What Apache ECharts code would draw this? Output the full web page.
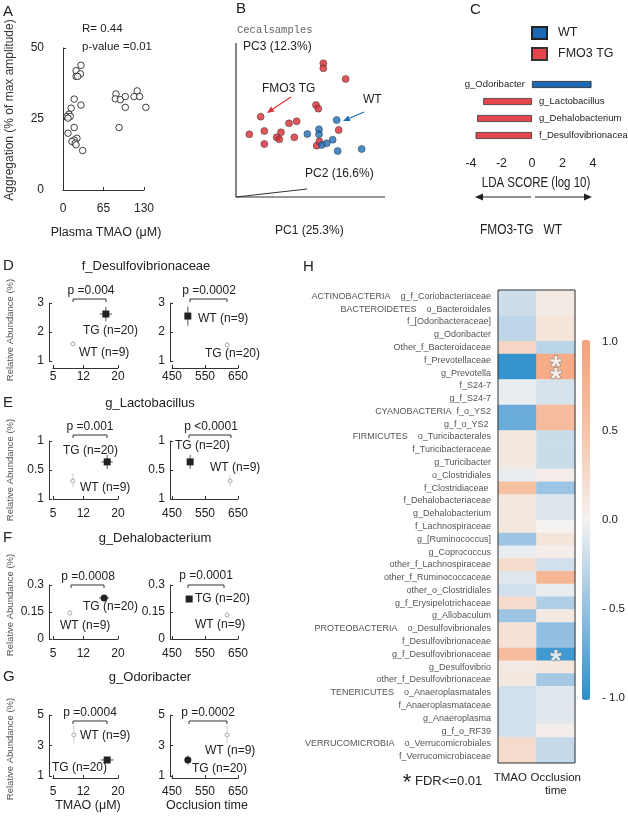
<!DOCTYPE html>
<html>
<head>
<meta charset="utf-8">
<script src="https://cdn.jsdelivr.net/npm/echarts@6/dist/echarts.min.js"></script>
<style>
html, body { margin: 0; padding: 0; background: #fff; }
#chart { width: 628px; height: 816px; }
</style>
</head>
<body>
<div id="chart"></div>
<script>
// ---- A: plasma TMAO vs platelet aggregation
const aTmao = [28.8, 21, 28, 21, 23.5, 18, 28.8, 13, 9.6, 6.4, 11.7, 8, 18, 8, 22.4, 18, 14.4, 19.7, 21, 31.5,
	85, 84, 92, 100, 100, 90, 114, 119, 123, 133]
const aAggregation = [43.9, 42, 40.9, 40, 40, 32, 29.9, 28.8, 26.7, 25.9, 25.9, 25.3, 22, 20, 18.2, 17.6, 17.1, 16.5, 15.9, 13.9,
	33.8, 32.1, 31.8, 32.9, 29.1, 22, 32.9, 34.9, 32.9, 29.1]

// ---- B: PCoA of cecal samples (PC2, PC3)
const bTgPc2 = [0.70, 0.70, 1.37, 0.48, 0.55, -1.18, -0.33, -0.10, 1.16, -1.52, -1.07, -0.57, -0.70, -0.62, -0.17, -1.07, 0.50, 0.58]
const bTgPc3 = [2.60, 2.45, 2.13, 1.35, 1.24, 1.00, 0.80, 0.86, 0.60, 0.47, 0.57, 0.53, 0.38, 0.32, 0.38, 0.18, 0.13, 0.26]
const bWtPc2 = [1.10, 0.57, 0.22, 0.57, 0.98, 0.80, 0.65, 1.13, 1.85]
const bWtPc3 = [0.90, 0.62, 0.48, 0.47, 0.31, 0.20, 0.15, -0.03, 0.03]

// ---- C: LEfSe LDA scores
const cTaxa = ['g_Odoribacter', 'g_Lactobacillus', 'g_Dehalobacterium', 'f_Desulfovibrionaceae']
const cLdaScore = [3.9, -3.2, -3.6, -3.7]
const cGroup = ['WT', 'FMO3 TG', 'FMO3 TG', 'FMO3 TG']

// ---- D-G: mean, error  [x, y, xErr, yErr]
const dTmaoTG = [17.2, 2.62, 1.4, 0.25]
const dTmaoWT = [9.6, 1.59, 0.4, 0.08]
const dOccWT = [498, 2.55, 5, 0.33]
const dOccTG = [617, 1.55, 5, 0.1]
const eTmaoTG = [17.5, 0.64, 1.3, 0.12]
const eTmaoWT = [9.6, 0.31, 0.4, 0.12]
const eOccTG = [505, 0.64, 5, 0.12]
const eOccWT = [626, 0.31, 5, 0.1]
const fTmaoTG = [16.8, 0.228, 1.2, 0.01]
const fTmaoWT = [8.9, 0.144, 0.3, 0.015]
const fOccTG = [502, 0.222, 5, 0.012]
const fOccWT = [617, 0.133, 5, 0.015]
const gTmaoWT = [9.8, 3.69, 0.4, 0.6]
const gTmaoTG = [17.5, 2.05, 1.5, 0.2]
const gOccWT = [617, 3.69, 5, 0.6]
const gOccTG = [498, 2.05, 5, 0.3]

const tmaoTicks = [5, 12, 20]
const occTicks = [450, 550, 650]
const dTicks = [1, 2, 3]
const eTicks = [0, 0.5, 1]
const eTickText = ['1', '0.5', '1']
const fTicks = [0, 0.15, 0.3]
const gTicks = [1, 3, 5]

// ---- H: correlation heatmap
const hTaxa = [
	'ACTINOBACTERIA    g_f_Coriobacteriaceae',
	'BACTEROIDETES    o_Bacteroidales',
	'f_[Odoribacteraceae]',
	'g_Odoribacter',
	'Other_f_Bacteroidaceae',
	'f_Prevotellaceae',
	'g_Prevotella',
	'f_S24-7',
	'g_f_S24-7',
	'CYANOBACTERIA  f_o_YS2',
	'g_f_o_YS2 ',
	'FIRMICUTES    o_Turicibacterales',
	'f_Turicibacteraceae',
	'g_Turicibacter',
	'o_Clostridiales',
	'f_Clostridiaceae ',
	'f_Dehalobacteriaceae',
	'g_Dehalobacterium',
	'f_Lachnospiraceae',
	'g_[Ruminococcus]',
	'g_Coprococcus',
	'other_f_Lachnospiraceae',
	'other_f_Ruminococcaceae',
	'other_o_Clostridiales',
	'g_f_Erysipelotrichaceae',
	'g_Allobaculum',
	'PROTEOBACTERIA    o_Desulfovibrionales',
	'f_Desulfovibrionaceae',
	'g_f_Desulfovibrionaceae',
	'g_Desulfovibrio',
	'other_f_Desulfovibrionaceae',
	'TENERICUTES    o_Anaeroplasmatales',
	'f_Anaeroplasmataceae',
	'g_Anaeroplasma',
	'g_f_o_RF39',
	'VERRUCOMICROBIA    o_Verrucomicrobiales',
	'f_Verrucomicrobiaceae'
]
const hTmao = [-0.2, -0.2, -0.28, -0.28, 0.3, -0.95, -0.95, -0.05, -0.05, -0.7, -0.7, 0.1, 0.1, 0.1, -0.05, 0.55,
	0.12, 0.12, 0.12, -0.45, -0.05, 0.25, -0.1, -0.18, 0.25, -0.45, 0.18, 0.18, 0.6, 0.08, 0.12,
	-0.18, -0.18, -0.18, -0.18, 0.25, 0.25]
const hOcclusion = [0.08, 0.08, 0.15, 0.15, -0.3, 0.85, 0.85, -0.15, -0.15, 0.6, 0.6, -0.22, -0.22, -0.22, 0.05, -0.45,
	-0.12, -0.12, 0.0, 0.15, 0.05, -0.18, 0.7, -0.05, -0.35, 0.08, -0.5, -0.5, -0.9, 0.12, -0.42,
	-0.1, -0.1, -0.1, 0.05, -0.25, -0.25]
const hStarRows = [5, 6, 28] // FDR <= 0.01, occlusion time column
const hColumns = ['TMAO', 'Occlusion\ntime']
const cbTicks = [-1, -0.5, 0, 0.5, 1]
const cbTickText = ['- 1.0', '- 0.5', '0.0', '0.5', '1.0']

const FONT = '"Liberation Sans", Arial, sans-serif'

const txt = (x, y, s, size, o = {}) => ({
	type: 'text', x, y, rotation: o.rot || 0, scaleX: o.sx || 1, z: 100,
	style: {
		text: s, fontSize: size, fontFamily: o.family || FONT, fill: o.color || '#222',
		align: o.align || 'left', verticalAlign: 'middle'
	}
})

const seg = (x1, y1, x2, y2, color = '#333', w = 1) => ({
	type: 'line', z: 100, shape: { x1, y1, x2, y2 }, style: { stroke: color, lineWidth: w }
})

const arrow = (x1, y1, x2, y2, color, hl = 7, hw = 3) => {
	const a = Math.atan2(y2 - y1, x2 - x1)
	const bx = x2 - hl * Math.cos(a), by = y2 - hl * Math.sin(a)
	const px = -Math.sin(a) * hw, py = Math.cos(a) * hw
	return [
		seg(x1, y1, bx, by, color, 1.2),
		{ type: 'polygon', z: 100, shape: { points: [[x2, y2], [bx + px, by + py], [bx - px, by - py]] }, style: { fill: color } }
	]
}

const bracket = (x1, x2, y) => ({
	type: 'polyline', z: 100,
	shape: { points: [[x1, y + 3], [x1, y], [x2, y], [x2, y + 3]] },
	style: { stroke: '#333', lineWidth: 1, fill: null }
})

// small plots layout
const rows = {
	D: { top: 303, h: 58, xOff: 7, xMargin: 3, ticks: dTicks, min: 1, max: 3 },
	E: { top: 441, h: 58, xOff: 4, xMargin: 5, ticks: eTicks, min: 0, max: 1, text: eTickText },
	F: { top: 585, h: 54, xOff: 2, xMargin: 7, ticks: fTicks, min: 0, max: 0.3 },
	G: { top: 715, h: 61, xOff: 2, xMargin: 8, ticks: gTicks, min: 1, max: 5 }
}
const sides = {
	L: { left: 53, width: 65, min: 5, max: 20, ticks: tmaoTicks, yOff: 4 },
	R: { left: 172, width: 66, min: 450, max: 650, ticks: occTicks, yOff: 2 }
}
const smallPlots = [
	{ row: 'D', side: 'L', TG: dTmaoTG, WT: dTmaoWT, filled: 'TG', shape: 'rect' },
	{ row: 'D', side: 'R', TG: dOccTG, WT: dOccWT, filled: 'WT', shape: 'rect' },
	{ row: 'E', side: 'L', TG: eTmaoTG, WT: eTmaoWT, filled: 'TG', shape: 'rect' },
	{ row: 'E', side: 'R', TG: eOccTG, WT: eOccWT, filled: 'TG', shape: 'rect' },
	{ row: 'F', side: 'L', TG: fTmaoTG, WT: fTmaoWT, filled: 'TG', shape: 'circle' },
	{ row: 'F', side: 'R', TG: fOccTG, WT: fOccWT, filled: 'TG', shape: 'rect' },
	{ row: 'G', side: 'L', TG: gTmaoTG, WT: gTmaoWT, filled: 'TG', shape: 'rect' },
	{ row: 'G', side: 'R', TG: gOccTG, WT: gOccWT, filled: 'TG', shape: 'circle' }
]

const errorMarker = (filled, shape) => (params, api) => {
	const x = api.value(0), y = api.value(1), ex = api.value(2), ey = api.value(3)
	const c = api.coord([x, y])
	const xl = api.coord([x - ex, y])[0], xr = api.coord([x + ex, y])[0]
	const yt = api.coord([x, y + ey])[1], yb = api.coord([x, y - ey])[1]
	const bar = filled ? { stroke: '#555', lineWidth: 1 } : { stroke: '#aaa', lineWidth: 1, lineDash: [1, 1] }
	const kids = [
		{ type: 'line', shape: { x1: xl, y1: c[1], x2: xr, y2: c[1] }, style: bar },
		{ type: 'line', shape: { x1: c[0], y1: yt, x2: c[0], y2: yb }, style: bar }
	]
	if (filled) {
		kids.push(shape === 'circle'
			? { type: 'circle', shape: { cx: c[0], cy: c[1], r: 3.5 }, style: { fill: '#222' } }
			: { type: 'rect', shape: { x: c[0] - 3.5, y: c[1] - 3.5, width: 7, height: 7 }, style: { fill: '#222' } })
	} else {
		kids.push({ type: 'circle', shape: { cx: c[0], cy: c[1], r: 2 }, style: { fill: '#fff', stroke: '#aaa', lineWidth: 1 } })
	}
	return { type: 'group', children: kids }
}

const grids = [
	{ left: 63, top: 48, width: 81, height: 142 },          // A
	{ left: 233.33, top: 50, width: 133.33, height: 116.67 }, // B
	{ left: 471, top: 76, width: 122, height: 68 }           // C
]
const xAxes = [
	{
		gridIndex: 0, type: 'value', min: 0, max: 130, interval: 65, offset: 4,
		axisLine: { lineStyle: { color: '#333' } }, axisTick: { inside: true, length: 3 },
		axisLabel: { fontSize: 12, color: '#222', margin: 9 }, splitLine: { show: false }
	},
	{ gridIndex: 1, type: 'value', min: -2, max: 2, show: false },
	{
		gridIndex: 2, type: 'value', min: -4, max: 4, interval: 2, offset: 8,
		axisLine: { lineStyle: { color: '#222' } }, axisTick: { inside: true, length: 4, lineStyle: { color: '#222' } },
		axisLabel: { fontSize: 12.5, color: '#222', margin: 5 }, splitLine: { show: false }
	}
]
const yAxes = [
	{
		gridIndex: 0, type: 'value', min: 0, max: 50, interval: 25, offset: 14,
		axisLine: { show: true, lineStyle: { color: '#333' } }, axisTick: { show: true, inside: true, length: 3 },
		axisLabel: { fontSize: 12, color: '#222', margin: 5 }, splitLine: { show: false }
	},
	{ gridIndex: 1, type: 'value', min: -0.5, max: 3, show: false },
	{ gridIndex: 2, type: 'category', data: cTaxa, inverse: true, show: false }
]

const series = [
	{
		type: 'scatter', xAxisIndex: 0, yAxisIndex: 0, clip: false, symbol: 'circle', symbolSize: 6.5,
		itemStyle: { color: '#fff', borderColor: '#111', borderWidth: 1 },
		data: aTmao.map((x, i) => [x, aAggregation[i]])
	},
	{
		type: 'scatter', xAxisIndex: 1, yAxisIndex: 1, symbolSize: 7,
		itemStyle: { color: '#d92b35', borderColor: '#333', borderWidth: 0.6 },
		data: bTgPc2.map((x, i) => [x, bTgPc3[i]])
	},
	{
		type: 'scatter', xAxisIndex: 1, yAxisIndex: 1, symbolSize: 7,
		itemStyle: { color: '#1d6db5', borderColor: '#333', borderWidth: 0.6 },
		data: bWtPc2.map((x, i) => [x, bWtPc3[i]])
	}
]

const ldaItem = g => cLdaScore.map((v, i) => cGroup[i] === g
	? { value: v, label: { position: v > 0 ? 'left' : 'right' } }
	: '-')
const ldaLabel = {
	show: true, distance: 7, fontSize: 9.5, color: '#222',
	formatter: p => cTaxa[p.dataIndex]
}
series.push(
	{
		name: 'WT', type: 'bar', xAxisIndex: 2, yAxisIndex: 2, stack: 'lda', barWidth: 7,
		itemStyle: { color: '#1b68b3', borderColor: '#222', borderWidth: 0.8 },
		label: ldaLabel, data: ldaItem('WT')
	},
	{
		name: 'FMO3 TG', type: 'bar', xAxisIndex: 2, yAxisIndex: 2, stack: 'lda', barWidth: 7,
		itemStyle: { color: '#e5464d', borderColor: '#333', borderWidth: 0.8 },
		label: ldaLabel, data: ldaItem('FMO3 TG')
	}
)

smallPlots.forEach(p => {
	const r = rows[p.row], s = sides[p.side]
	const idx = grids.length
	grids.push({ left: s.left, top: r.top, width: s.width, height: r.h })
	xAxes.push({
		gridIndex: idx, type: 'value', min: s.min, max: s.max, offset: r.xOff,
		axisLine: { lineStyle: { color: '#333' } },
		axisTick: { inside: true, length: 3, customValues: s.ticks },
		axisLabel: { fontSize: 12, color: '#222', margin: r.xMargin, customValues: s.ticks },
		splitLine: { show: false }
	})
	yAxes.push({
		gridIndex: idx, type: 'value', min: r.min, max: r.max, offset: s.yOff,
		axisLine: { show: true, lineStyle: { color: '#333' } },
		axisTick: { show: true, inside: true, length: 3, customValues: r.ticks },
		axisLabel: {
			fontSize: 12, color: '#222', margin: 5, customValues: r.ticks,
			formatter: v => r.text ? r.text[r.ticks.indexOf(v)] : String(v)
		},
		splitLine: { show: false }
	})
	;['WT', 'TG'].forEach(g => series.push({
		type: 'custom', xAxisIndex: idx, yAxisIndex: idx,
		renderItem: errorMarker(p.filled === g, p.shape),
		data: [p[g]]
	}))
})

// heatmap grid
const hIdx = grids.length
grids.push({ left: 498, top: 290, width: 77, height: 473 })
xAxes.push({
	gridIndex: hIdx, type: 'category', data: hColumns, position: 'bottom',
	axisLine: { show: false }, axisTick: { show: false },
	axisLabel: {
		interval: 0, hideOverlap: false, margin: 8,
		formatter: v => v === 'TMAO' ? '{t|TMAO}' : v.split('\n').map(s => '{o|' + s + '}').join('\n'),
		rich: {
			t: { fontSize: 11.5, color: '#222', padding: [0, 14, 0, 0], lineHeight: 13 },
			o: { fontSize: 11.5, color: '#222', lineHeight: 13 }
		}
	}
})
yAxes.push({
	gridIndex: hIdx, type: 'category', data: hTaxa, inverse: true,
	axisLine: { show: false }, axisTick: { show: false },
	axisLabel: { fontSize: 9, color: '#555', margin: 7, interval: 0 }
})
const heatData = []
hTaxa.forEach((t, i) => {
	heatData.push([0, i, hTmao[i]])
	heatData.push([1, i, hOcclusion[i]])
})
const heatSeriesIndex = series.length
series.push({
	type: 'heatmap', xAxisIndex: hIdx, yAxisIndex: hIdx, data: heatData,
	itemStyle: { borderWidth: 0 }, emphasis: { disabled: true }
})
series.push({
	type: 'scatter', xAxisIndex: hIdx, yAxisIndex: hIdx, symbolSize: 0, z: 5,
	label: {
		show: true, position: 'inside', formatter: '*', fontSize: 30, fontWeight: 'bold',
		color: '#fff', textBorderColor: '#777', textBorderWidth: 1, offset: [0, 7]
	},
	data: hStarRows.map(i => [1, i])
})

// colorbar tick axis
const cbIdx = grids.length
grids.push({ left: 582, top: 342, width: 8, height: 356 })
xAxes.push({ gridIndex: cbIdx, type: 'value', min: 0, max: 1, show: false })
yAxes.push({
	gridIndex: cbIdx, type: 'value', position: 'right', min: -1, max: 1,
	axisLine: { show: false },
	axisTick: { show: true, length: 8, customValues: cbTicks, lineStyle: { color: '#bbb' } },
	axisLabel: {
		fontSize: 11.5, color: '#222', margin: 12, customValues: cbTicks,
		formatter: v => cbTickText[cbTicks.indexOf(v)]
	},
	splitLine: { show: false }
})
series.push({ type: 'line', xAxisIndex: cbIdx, yAxisIndex: cbIdx, data: [] })

const graphic = [
	// A
	txt(3, 12, 'A', 15),
	txt(82, 29, 'R= 0.44', 11.5),
	txt(82, 47, 'p-value =0.01', 11.5),
	txt(10, 110, 'Aggregation (% of max amplitude)', 12, { rot: Math.PI / 2, align: 'center', color: '#333' }),
	txt(106, 233, 'Plasma TMAO (\u03bcM)', 12.5, { align: 'center' }),
	// B
	txt(236, 9, 'B', 15),
	txt(237, 30, 'Cecalsamples', 10.5, { family: '"Liberation Mono", monospace', color: '#666' }),
	txt(243, 47, 'PC3 (12.3%)', 12),
	txt(262, 89, 'FMO3 TG', 12),
	txt(363, 100, 'WT', 12),
	txt(305, 174, 'PC2 (16.6%)', 12),
	txt(275, 231, 'PC1 (25.3%)', 12),
	seg(236, 43, 236, 197, '#333', 1.2),
	seg(236, 197, 385, 197, '#333', 1.2),
	seg(236, 197, 307, 189, '#333', 1.2),
	...arrow(291, 97, 267, 113, '#e0303a'),
	...arrow(364, 112, 343, 121, '#1d6db5'),
	// C
	txt(470, 10, 'C', 15),
	txt(536, 183, 'LDA SCORE (log 10)', 14, { align: 'center', sx: 0.82 }),
	...arrow(531, 197, 475, 197, '#222', 8, 3.5),
	...arrow(535, 197, 592, 197, '#222', 8, 3.5),
	txt(480, 230, 'FMO3-TG   WT', 14, { sx: 0.85 }),
	// D-G titles
	txt(3, 266, 'D', 15), txt(146, 266, 'f_Desulfovibrionaceae', 13, { align: 'center' }),
	txt(3, 403, 'E', 15), txt(150, 403, 'g_Lactobacillus', 13, { align: 'center' }),
	txt(3, 538, 'F', 15), txt(155, 538, 'g_Dehalobacterium', 13, { align: 'center' }),
	txt(3, 677, 'G', 15), txt(150, 677, 'g_Odoribacter', 13, { align: 'center' }),
	...[330, 470, 605, 749].map(y => txt(10, y, 'Relative Abundance (%)', 9.5, { rot: Math.PI / 2, align: 'center', color: '#555' })),
	// p values and brackets
	txt(91, 291, 'p =0.004', 12, { align: 'center' }), bracket(73, 106, 299),
	txt(209, 291, 'p =0.0002', 12, { align: 'center' }), bracket(190, 227, 299),
	txt(90, 427, 'p =0.001', 12, { align: 'center' }), bracket(73, 107, 435),
	txt(211, 427, 'p <0.0001', 12, { align: 'center' }), bracket(189, 231, 435),
	txt(88, 577, 'p =0.0008', 12, { align: 'center' }), bracket(71, 104, 585),
	txt(206, 576, 'p =0.0001', 12, { align: 'center' }), bracket(188, 224, 585),
	txt(90, 713, 'p =0.0004', 12, { align: 'center' }), bracket(73, 107, 721),
	txt(208, 713, 'p =0.0002', 12, { align: 'center' }), bracket(189, 227, 721),
	// group labels
	txt(83, 331, 'TG (n=20)', 12), txt(79, 353, 'WT (n=9)', 12),
	txt(198, 319, 'WT (n=9)', 12), txt(205, 354, 'TG (n=20)', 12),
	txt(63, 451, 'TG (n=20)', 12), txt(80, 488, 'WT (n=9)', 12),
	txt(175, 446, 'TG (n=20)', 12), txt(210, 468, 'WT (n=9)', 12),
	txt(83, 607, 'TG (n=20)', 12), txt(60, 626, 'WT (n=9)', 12),
	txt(195, 599, 'TG (n=20)', 12), txt(195, 625, 'WT (n=9)', 12),
	txt(80, 736, 'WT (n=9)', 12), txt(52, 768, 'TG (n=20)', 12),
	txt(205, 751, 'WT (n=9)', 12), txt(192, 769, 'TG (n=20)', 12),
	txt(88, 806, 'TMAO (\u03bcM)', 12.5, { align: 'center' }),
	txt(207, 806, 'Occlusion time', 12.5, { align: 'center' }),
	// H
	txt(303, 267, 'H', 15),
	{ type: 'rect', z: 100, shape: { x: 498, y: 290, width: 77, height: 473 }, style: { fill: null, stroke: '#333', lineWidth: 1 } },
	txt(407, 783, '*', 22, { align: 'center' }),
	txt(415, 781, 'FDR<=0.01', 13)
]

const chart = echarts.init(document.getElementById('chart'))
chart.setOption({
	animation: false,
	textStyle: { fontFamily: FONT },
	grid: grids,
	xAxis: xAxes,
	yAxis: yAxes,
	legend: {
		data: ['WT', 'FMO3 TG'], orient: 'vertical', left: 531, top: 26, padding: 0,
		itemWidth: 15, itemHeight: 12, itemGap: 7, icon: 'rect',
		textStyle: { fontSize: 12.5, color: '#222', padding: [0, 0, 0, 6] }
	},
	visualMap: {
		type: 'continuous', seriesIndex: heatSeriesIndex, min: -1, max: 1,
		left: 582, top: 340, itemWidth: 8, itemHeight: 360, padding: 0,
		calculable: false, text: null, showLabel: false,
		inRange: { color: ['#2b8fcb', '#93c0e2', '#f4f2f0', '#f6c3a6', '#f4a27a'] }
	},
	series: series,
	graphic: graphic
})
</script>
</body>
</html>
